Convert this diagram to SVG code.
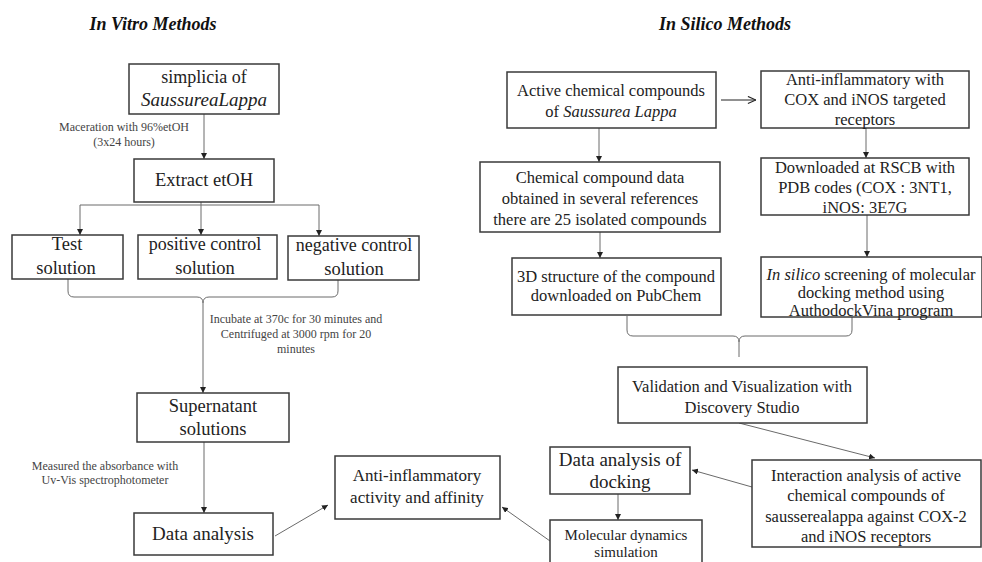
<svg xmlns="http://www.w3.org/2000/svg" width="982" height="562" viewBox="0 0 982 562">
<defs>
<marker id="ah" viewBox="0 0 10 10" markerWidth="6" markerHeight="6" refX="10" refY="5" orient="auto" markerUnits="userSpaceOnUse">
<path d="M0,0 L10,5 L0,10 z" fill="#222"/>
</marker>
<marker id="oa" viewBox="0 0 10 10" markerWidth="9" markerHeight="9" refX="10" refY="5" orient="auto" markerUnits="userSpaceOnUse">
<path d="M1,1 L10,5 L1,9" fill="none" stroke="#222" stroke-width="1.2"/>
</marker>
</defs>
<style>
rect.b{fill:#fff;stroke:#3a3a3a;stroke-width:1.5}
text{font-family:"Liberation Serif","Times New Roman",serif;fill:#222;text-anchor:middle}
.t{font-size:18px;font-weight:bold;font-style:italic;fill:#111}
.l18{font-size:18.5px}
.l17{font-size:17px}
.l16{font-size:16.5px}
.l19{font-size:19px}
.l15{font-size:15px}
.s{font-size:12px;fill:#444}
.i{font-style:italic}
.c path,.c line{fill:none;stroke:#6a6a6a;stroke-width:1}
</style>
<rect width="982" height="562" fill="#fff"/>
<text class="t" x="153" y="30">In Vitro Methods</text>
<text class="t" x="725" y="30">In Silico Methods</text>

<g class="c" id="connectors">
<line x1="204" y1="114" x2="204" y2="159" marker-end="url(#ah)"/>
<path d="M201,202 V205 M80,205 H319"/>
<line x1="80" y1="205" x2="80" y2="235" marker-end="url(#ah)"/>
<line x1="201" y1="205" x2="201" y2="235" marker-end="url(#ah)"/>
<line x1="319" y1="205" x2="319" y2="236" marker-end="url(#ah)"/>
<path d="M68,279 V291 Q68,297 74,297 H197 Q203,297 203,303 Q203,297 209,297 H332 Q338,297 338,291 V280"/>
<line x1="203" y1="303" x2="203" y2="393" marker-end="url(#ah)"/>
<line x1="204" y1="442" x2="204" y2="513" marker-end="url(#ah)"/>
<line x1="275" y1="536" x2="328" y2="505" marker-end="url(#ah)"/>
<line x1="721" y1="100" x2="756" y2="100" marker-end="url(#oa)" style="stroke:#222"/>
<line x1="599" y1="128" x2="599" y2="162" marker-end="url(#ah)"/>
<line x1="866" y1="128" x2="866" y2="158" marker-end="url(#ah)"/>
<line x1="600" y1="232" x2="600" y2="258" marker-end="url(#ah)"/>
<line x1="867" y1="215" x2="867" y2="257" marker-end="url(#ah)"/>
<path d="M627,316 V330 Q627,336 633,336 H733 Q739,336 739,342 Q739,336 745,336 H846 Q852,336 852,330 V317"/>
<line x1="739" y1="342" x2="739" y2="357"/>
<line x1="739" y1="423" x2="875" y2="458" marker-end="url(#ah)"/>
<line x1="752" y1="487" x2="692" y2="470" marker-end="url(#ah)"/>
<line x1="618" y1="494" x2="618" y2="520" marker-end="url(#ah)"/>
<line x1="550" y1="541" x2="502" y2="507" marker-end="url(#ah)"/>
</g>

<g id="simplicia"><rect class="b" x="129" y="64" width="150" height="50"/>
<text class="l18" x="204" y="83" style="font-size:18px">simplicia  of</text>
<text class="l19 i" x="204" y="106">SaussureaLappa</text></g>
<text class="s" x="124" y="131">Maceration with 96%etOH</text>
<text class="s" x="124" y="146">(3x24 hours)</text>

<g id="extract"><rect class="b" x="134" y="159" width="140" height="43"/>
<text class="l18" x="204" y="186">Extract etOH</text></g>

<g id="test"><rect class="b" x="12" y="235" width="111" height="44"/>
<text class="l18" x="67" y="250">Test</text>
<text class="l18" x="66" y="274">solution</text></g>

<g id="positive"><rect class="b" x="138" y="235" width="139" height="44"/>
<text class="l18" x="205" y="250" style="font-size:18px">positive control</text>
<text class="l18" x="205" y="274">solution</text></g>

<g id="negative"><rect class="b" x="288" y="236" width="131" height="44"/>
<text class="l18" x="354" y="251" style="font-size:18px">negative control</text>
<text class="l18" x="354" y="275">solution</text></g>

<text class="s" x="296" y="323">Incubate at 370c for 30 minutes and</text>
<text class="s" x="296" y="338">Centrifuged at 3000 rpm for 20</text>
<text class="s" x="296" y="353">minutes</text>

<g id="supernatant"><rect class="b" x="137" y="393" width="152" height="49"/>
<text class="l18" x="213" y="412">Supernatant</text>
<text class="l18" x="213" y="435">solutions</text></g>

<text class="s" x="105" y="470">Measured the absorbance with</text>
<text class="s" x="105" y="484">Uv-Vis spectrophotometer</text>

<g id="data-analysis"><rect class="b" x="134" y="513" width="139" height="42"/>
<text class="l19" x="203" y="540">Data analysis</text></g>

<g id="anti-activity"><rect class="b" x="335" y="456" width="165" height="63"/>
<text class="l17" x="417" y="481">Anti-inflammatory</text>
<text class="l17" x="417" y="503">activity and affinity</text></g>

<g id="active"><rect class="b" x="507" y="72" width="209" height="56"/>
<text class="l16" x="611" y="96">Active chemical compounds</text>
<text class="l16" x="611" y="117">of <tspan class="i">Saussurea Lappa</tspan></text></g>

<g id="anti-cox"><rect class="b" x="761" y="71" width="208" height="57"/>
<text class="l16" x="865" y="85">Anti-inflammatory with</text>
<text class="l16" x="865" y="105">COX and  iNOS  targeted</text>
<text class="l16" x="865" y="125">receptors</text></g>

<g id="chem-data"><rect class="b" x="480" y="162" width="240" height="70"/>
<text class="l16" x="600" y="183">Chemical compound data</text>
<text class="l16" x="600" y="204">obtained in several references</text>
<text class="l16" x="600" y="225">there are 25 isolated compounds</text></g>

<g id="downloaded"><rect class="b" x="761" y="158" width="208" height="57"/>
<text class="l16" x="865" y="173">Downloaded at RSCB with</text>
<text class="l16" x="865" y="193">PDB codes (COX : 3NT1,</text>
<text class="l16" x="865" y="213">iNOS: 3E7G</text></g>

<g id="structure3d"><rect class="b" x="512" y="258" width="209" height="57"/>
<text class="l16" x="616" y="282">3D structure of the compound</text>
<text class="l16" x="616" y="301">downloaded on PubChem</text></g>

<g id="insilico"><rect class="b" x="761" y="257" width="221" height="60"/>
<text class="l16" x="871" y="280"><tspan class="i">In silico</tspan> screening of molecular</text>
<text class="l16" x="871" y="298">docking method using</text>
<text class="l16" x="871" y="316">AuthodockVina program</text></g>

<g id="validation"><rect class="b" x="618" y="367" width="249" height="56"/>
<text class="l16" x="742" y="392">Validation and Visualization with</text>
<text class="l16" x="742" y="413">Discovery Studio</text></g>

<g id="interaction"><rect class="b" x="752" y="460" width="229" height="87"/>
<text class="l16" x="866" y="481">Interaction analysis of active</text>
<text class="l16" x="866" y="501">chemical compounds of</text>
<text class="l16" x="866" y="522">sausserealappa against COX-2</text>
<text class="l16" x="866" y="542">and iNOS  receptors</text></g>

<g id="docking"><rect class="b" x="550" y="447" width="140" height="47"/>
<text class="l19" x="620" y="466">Data analysis of</text>
<text class="l19" x="620" y="488">docking</text></g>

<g id="molecular"><rect class="b" x="550" y="520" width="152" height="50"/>
<text class="l15" x="626" y="540">Molecular dynamics</text>
<text class="l15" x="626" y="557">simulation</text></g>
</svg>
